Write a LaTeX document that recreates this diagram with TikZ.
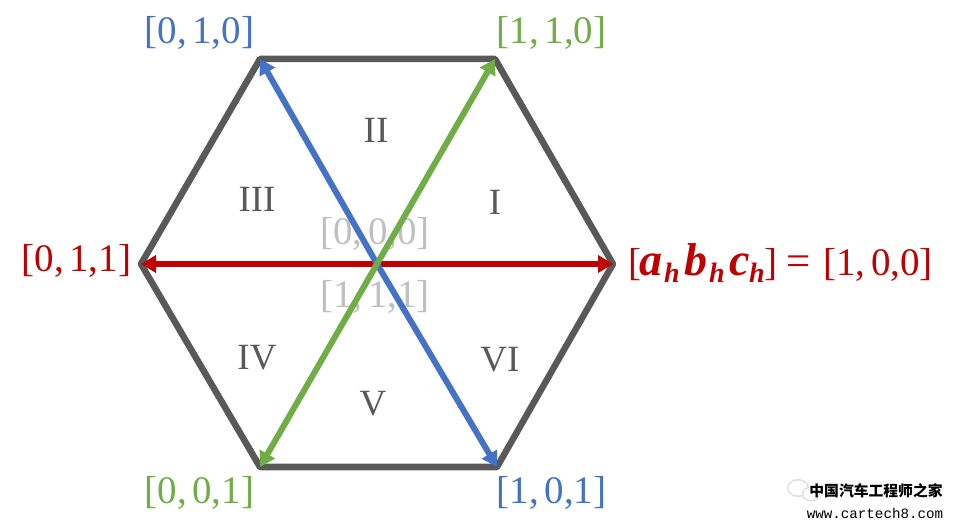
\documentclass[tikz,border=0pt]{standalone}
\usepackage{fontspec}
\setmainfont{Liberation Serif}
\newfontfamily\cjkwm{Noto Sans CJK SC}
\newfontfamily\monowm{Liberation Mono}
\usetikzlibrary{arrows.meta}
\definecolor{hexgray}{HTML}{595959}
\definecolor{vred}{HTML}{C00000}
\definecolor{vgreen}{HTML}{70AD47}
\definecolor{vblue}{HTML}{4472C4}
\definecolor{zerogray}{HTML}{BFBFBF}
\definecolor{wechat}{HTML}{DDDDDD}
\newcommand{\tri}[3]{[#1,\kern5.5pt#2,#3]}
\newcommand{\subh}[1]{\makebox[#1][l]{\raisebox{-7pt}{\fontsize{28}{28}\selectfont h}}}
\newcommand{\biglet}[2]{\makebox[#1][l]{\fontsize{46}{46}\selectfont #2}}
\tikzset{
  px/.style={x=1pt,y=-1pt},
  hexline/.style={draw=hexgray,line width=6.5pt,line join=round,line cap=round},
  vec/.style={line width=6pt,-{Triangle[length=15pt,width=17pt]}},
  lab/.style={inner sep=0pt,font=\fontsize{39}{39}\selectfont},
  sect/.style={inner sep=0pt,text=hexgray,font=\fontsize{37}{37}\selectfont},
}
\begin{document}
\begin{tikzpicture}[px]
\useasboundingbox (0,0) rectangle (954,529);
\coordinate (O) at (377,264);
\coordinate (A) at (613,264);
\coordinate (B) at (495,59);
\coordinate (C) at (260,59);
\coordinate (D) at (141,264);
\coordinate (E) at (260,467);
\coordinate (F) at (497,467);
\draw[hexline] (A) -- (B) -- (C) -- (D) -- (E) -- (F) -- cycle;
\node[lab,text=zerogray] (z0) at (375,234) {\tri{0}{0}{0}};
\node[lab,text=zerogray] (z1) at (375,297) {\tri{1}{1}{1}};
\draw[vec,vred] (O) -- (A);
\draw[vec,vred] (O) -- (D);
\draw[vec,vblue] (O) -- (C);
\draw[vec,vblue] (O) -- (F);
\draw[vec,vgreen] (O) -- (B);
\draw[vec,vgreen] (O) -- (E);
\node[sect] (s1) at (495,202) {I};
\node[sect] (s2) at (376,130) {II};
\node[sect] (s3) at (257,199) {III};
\node[sect] (s4) at (257,358) {IV};
\node[sect] (s5) at (373,404) {V};
\node[sect] (s6) at (500,360) {VI};
\node[lab,text=vblue] (l010) at (199.5,33) {\tri{0}{1}{0}};
\node[lab,text=vgreen] (l110) at (551.5,33) {\tri{1}{1}{0}};
\node[lab,text=vred] (l011) at (76.5,261) {\tri{0}{1}{1}};
\node[lab,text=vgreen] (l001) at (199.5,493) {\tri{0}{0}{1}};
\node[lab,text=vblue] (l101) at (551.5,493) {\tri{1}{0}{1}};
\node[lab,text=vred,anchor=base west] (l100) at (628,276) {\makebox[11pt][l]{[}{\bfseries\itshape\biglet{25pt}{a}\subh{20pt}\biglet{25pt}{b}\subh{20pt}\biglet{20pt}{c}\subh{15pt}}]\kern9pt{\fontsize{43}{43}\selectfont =}\kern13pt\tri{1}{0}{0}};
\fill[wechat] (798,488) ellipse (11pt and 9pt);
\fill[white] (798,488) ellipse (9.5pt and 7.5pt);
\fill[wechat] (811,494) ellipse (9pt and 7.5pt);
\fill[white] (811,494) ellipse (7.5pt and 6pt);
\node[inner sep=0pt,font=\cjkwm\bfseries\fontsize{14.8}{14.8}\selectfont] (wm1) at (876,491) {中国汽车工程师之家};
\node[inner sep=0pt,font=\monowm\fontsize{14.2}{14.2}\selectfont] (wm2) at (875,513) {www.cartech8.com};
\end{tikzpicture}
\end{document}
